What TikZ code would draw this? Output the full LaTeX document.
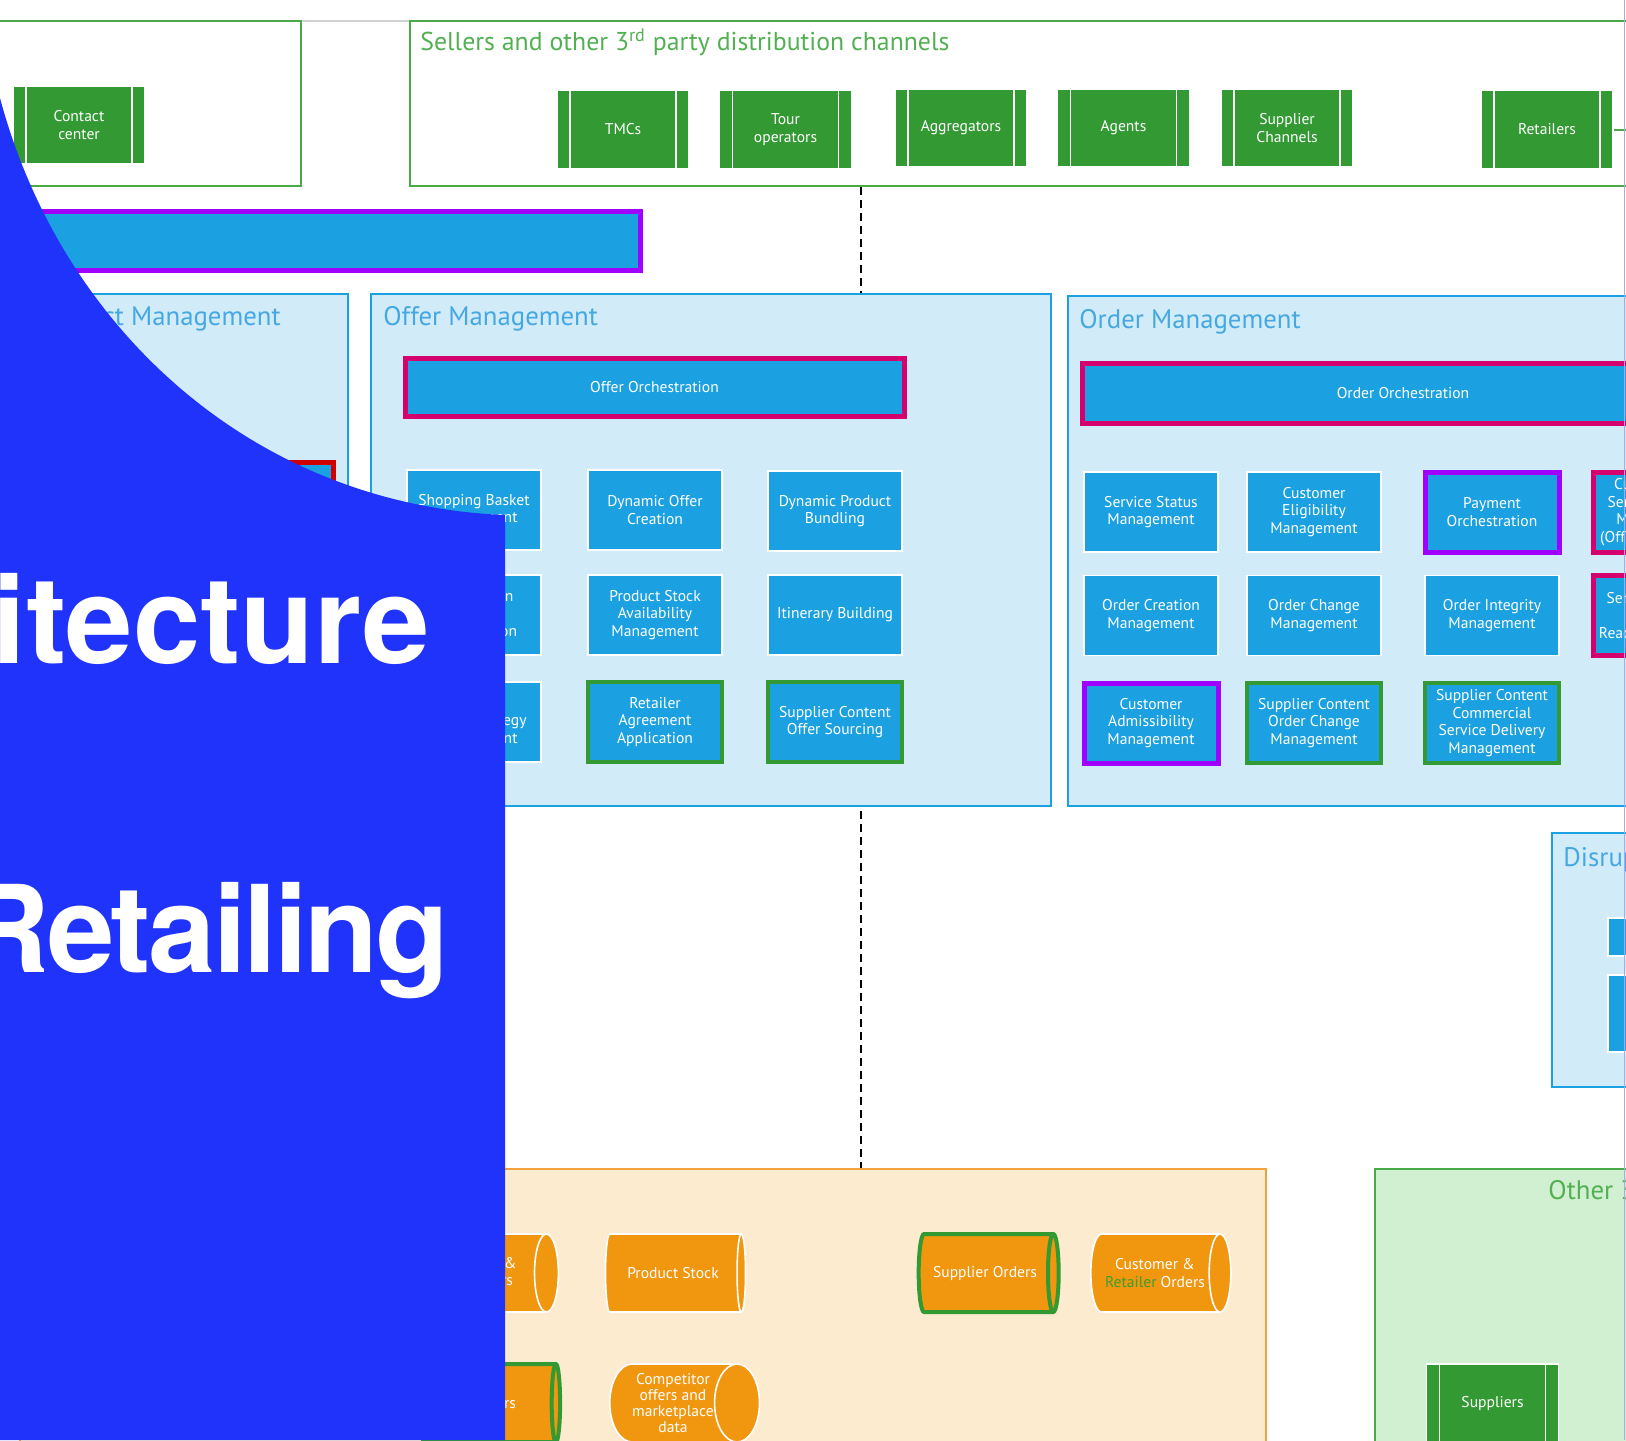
\documentclass[tikz,border=0pt]{standalone}
\usepackage{fontspec}
\setmainfont{PT Sans}
\newfontfamily\coverfont[LetterSpace=-2.5]{TeX Gyre Heros}
\usetikzlibrary{shapes.geometric}

\definecolor{chgreen}{HTML}{339933}
\definecolor{boxgreen}{HTML}{4AAA4A}
\definecolor{headgreen}{HTML}{52B052}
\definecolor{txtgreen}{HTML}{3E9E2E}
\definecolor{funcblue}{HTML}{1BA1E2}
\definecolor{paleblue}{HTML}{D1EBF8}
\definecolor{headblue}{HTML}{45A8E2}
\definecolor{orchmag}{HTML}{D4006E}
\definecolor{admpurple}{HTML}{A000FF}
\definecolor{redline}{HTML}{D00000}
\definecolor{storeorange}{HTML}{F0960F}
\definecolor{paleorange}{HTML}{FDEBD0}
\definecolor{dataorange}{HTML}{F2A23A}
\definecolor{palegreen}{HTML}{D1F0D1}
\definecolor{coverblue}{HTML}{2033FA}
\definecolor{edgeline}{HTML}{A9A9F2}

\newcommand\boxhead{\fontsize{13.4}{16}\selectfont}
\newcommand\boxlabel{\fontsize{7.8}{8.8}\selectfont}

\tikzset{
  frame/.style={rectangle, inner sep=0pt, line width=1pt},
  greenframe/.style={frame, draw=boxgreen},
  blueframe/.style={frame, draw=funcblue, fill=paleblue},
  dataframe/.style={frame, draw=dataorange, fill=paleorange},
  otherframe/.style={frame, draw=boxgreen, fill=palegreen},
  heading/.style={anchor=base west, inner sep=0pt, font=\boxhead},
  chan/.style={rectangle, fill=chgreen, draw=white, line width=0.6pt, text=white,
    align=center, font=\boxlabel, minimum width=66pt, minimum height=39pt, inner sep=1pt,
    path picture={\draw[white, line width=0.9pt]
      ([xshift=6.5pt]path picture bounding box.north west) -- ([xshift=6.5pt]path picture bounding box.south west)
      ([xshift=-6.5pt]path picture bounding box.north east) -- ([xshift=-6.5pt]path picture bounding box.south east);}},
  func/.style={rectangle, fill=funcblue, draw=white, line width=0.6pt, text=white,
    align=center, font=\boxlabel, minimum width=67pt, minimum height=40pt, inner sep=1pt},
  orch/.style={func, draw=orchmag, line width=2.5pt},
  adm/.style={func, draw=admpurple, line width=2.5pt},
  sup/.style={func, draw=chgreen, line width=2pt},
  store/.style={cylinder, shape border rotate=0, aspect=0.75, draw=white, line width=0.8pt,
    cylinder uses custom fill, cylinder body fill=storeorange, cylinder end fill=storeorange,
    text=white, align=center, font=\boxlabel, minimum height=70pt, minimum width=39pt, inner sep=0pt},
  supstore/.style={store, draw=chgreen, line width=2pt},
  dashline/.style={draw=black, line width=0.9pt, dash pattern=on 4pt off 2.5pt},
  cover/.style={text=white, inner sep=0pt, anchor=base east,
    font=\coverfont\bfseries\fontsize{60.5}{70}\selectfont}
}

\begin{document}
\begin{tikzpicture}[x=0.5pt,y=-0.5pt]
\useasboundingbox (0,0) rectangle (1626,1440);
\clip (0,0) rectangle (1626,1440);

\coordinate(pageL) at (0,21);
\coordinate(pageR) at (1626,21);
\draw[gray!35, line width=1pt] (pageL) -- (pageR);

% channels
\node(direct) at (140.5,103.5)[greenframe, minimum width=160.5pt, minimum height=82.5pt]{};
\node(sellers) at (1054.8,103.5)[greenframe, minimum width=645.2pt, minimum height=82.5pt]{};
\node(sellerstitle) at (420,50)[heading, font=\fontsize{12.9}{15}\selectfont, text=headgreen]
  {Sellers and other 3\textsuperscript{rd} party distribution channels};

\node(contact) at (79,125)[chan]        {Contact\\center};
\node(tmcs) at (623,129.5)[chan]        {TMCs};
\node(tour) at (785.5,129.5)[chan]      {Tour\\operators};
\node(aggr) at (961,128)[chan]          {Aggregators};
\node(agents) at (1123.5,128)[chan]     {Agents};
\node(supch) at (1287,128)[chan]        {Supplier\\Channels};
\node(retail) at (1547,129.5)[chan]     {Retailers};
\coordinate(stubend) at (1640,129.5);
\draw[boxgreen, line width=1pt] (retail.east) -- (stubend);

% data and 3rd party
\node(data) at (643,1324.5)[dataframe, minimum width=623pt, minimum height=155.5pt]{};
\node(other) at (1547.5,1324.5)[otherframe, minimum width=172.5pt, minimum height=155.5pt]{};
\node(othertitle) at (1548,1199)[heading, text=headgreen]{Other 3\textsuperscript{rd} party systems};

\coordinate(dashx) at (861,0);
\draw[dashline] (sellers.south -| dashx) -- (data.north -| dashx);

\node(bar) at (310,240.5)[func, draw=admpurple, line width=2.5pt, minimum width=330pt, minimum height=29.5pt]{};

% management domains
\node(prodmgmt) at (182.5,550)[blueframe, minimum width=165.5pt, minimum height=256pt]{};
\node(offer) at (711,550)[blueframe, minimum width=340pt, minimum height=256pt]{};
\node(order) at (1394,551)[blueframe, minimum width=326pt, minimum height=255pt]{};
\node(disrupt) at (1636,960)[blueframe, minimum width=84pt, minimum height=127pt]{};
\node(prodtitle) at (36,325)[heading, text=headblue]{Product Management};
\node(offertitle) at (383,325)[heading, text=headblue]{Offer Management};
\node(ordertitle) at (1079,328)[heading, text=headblue]{Order Management};
\node(disrupttitle) at (1563,866)[heading, text=headblue]{Disruption Management};

\node(prodred) at (266,502)[func, draw=redline, line width=2.5pt]{};

\node(offerorch) at (654.5,387)[orch, minimum width=249.5pt, minimum height=29pt]{Offer Orchestration};
\node(basket) at (474,510)[func]        {Shopping Basket\\Management};
\node(dynoffer) at (655,510)[func]      {Dynamic Offer\\Creation};
\node(dynbundle) at (835,511)[func]     {Dynamic Product\\Bundling};
\node(personal) at (474,615)[func]      {Distribution\\and\\Optimisation};
\node(stockavail) at (655,615)[func]    {Product Stock\\Availability\\Management};
\node(itinerary) at (835,615)[func]     {Itinerary Building};
\node(pricing) at (474,722)[func]       {Offer and\\Pricing Strategy\\Management};
\node(retagree) at (655,722)[sup]       {Retailer\\Agreement\\Application};
\node(supoffer) at (835,722)[sup]       {Supplier Content\\Offer Sourcing};

\node(orderorch) at (1403,393)[orch, minimum width=321pt, minimum height=30pt]{Order Orchestration};
\node(svcstatus) at (1151,512)[func]    {Service Status\\Management};
\node(custelig) at (1314,512)[func]     {Customer\\Eligibility\\Management};
\node(payorch) at (1492,512)[adm]       {Payment\\Orchestration};
\node(custsvc) at (1660,512)[orch]      {Customer and\\Service Request\\Management\\(Offline Channels)};
\node(ordcreate) at (1151,615.5)[func]  {Order Creation\\Management};
\node(ordchange) at (1314,615.5)[func]  {Order Change\\Management};
\node(ordinteg) at (1492,615.5)[func]   {Order Integrity\\Management};
\node(svcdeliv) at (1660,615.5)[orch]   {Service Delivery\\and\\Reaccommodation};
\node(custadm) at (1151,723)[adm]       {Customer\\Admissibility\\Management};
\node(supchange) at (1314,723)[sup]     {Supplier Content\\Order Change\\Management};
\node(supdeliv) at (1492,723)[sup]      {Supplier Content\\Commercial\\Service Delivery\\Management};

\node(disruptA) at (1664,937)[func, minimum width=56pt, minimum height=19pt]{};
\node(disruptB) at (1664,1013.5)[func, minimum width=56pt, minimum height=38.5pt]{};

% data stores
\node(store1) at (482,1273)[store]      {Content \&\\Suppliers};
\node(prodstock) at (673,1273)[store]   {Product Stock};
\node(suporders) at (985,1273)[supstore]{Supplier Orders};
\node(custorders) at (1155,1273)[store] {Customer \&\\{\color{txtgreen}Retailer} Orders};
\node(store2) at (487,1403)[supstore]   {Retailers};
\node(competitor) at (673,1403)[store, font=\fontsize{7.8}{8.1}\selectfont]{Competitor\\offers and\\marketplace\\data};

\node(suppliers) at (1492.5,1403)[chan] {Suppliers};

% cover
\fill[coverblue] (0,98) .. controls (62,330) and (255,505) .. (505,515) -- (505,1440) -- (0,1440) -- cycle;
\node(archword) at (430,663)[cover]     {\addfontfeature{LetterSpace=0}itecture};
\node(retailword) at (450,972)[cover]   {Retailing};

\coordinate(edgeT) at (1624.5,0);
\coordinate(edgeB) at (1624.5,1440);
\draw[edgeline, line width=0.6pt] (edgeT) -- (edgeB);

\end{tikzpicture}
\end{document}
